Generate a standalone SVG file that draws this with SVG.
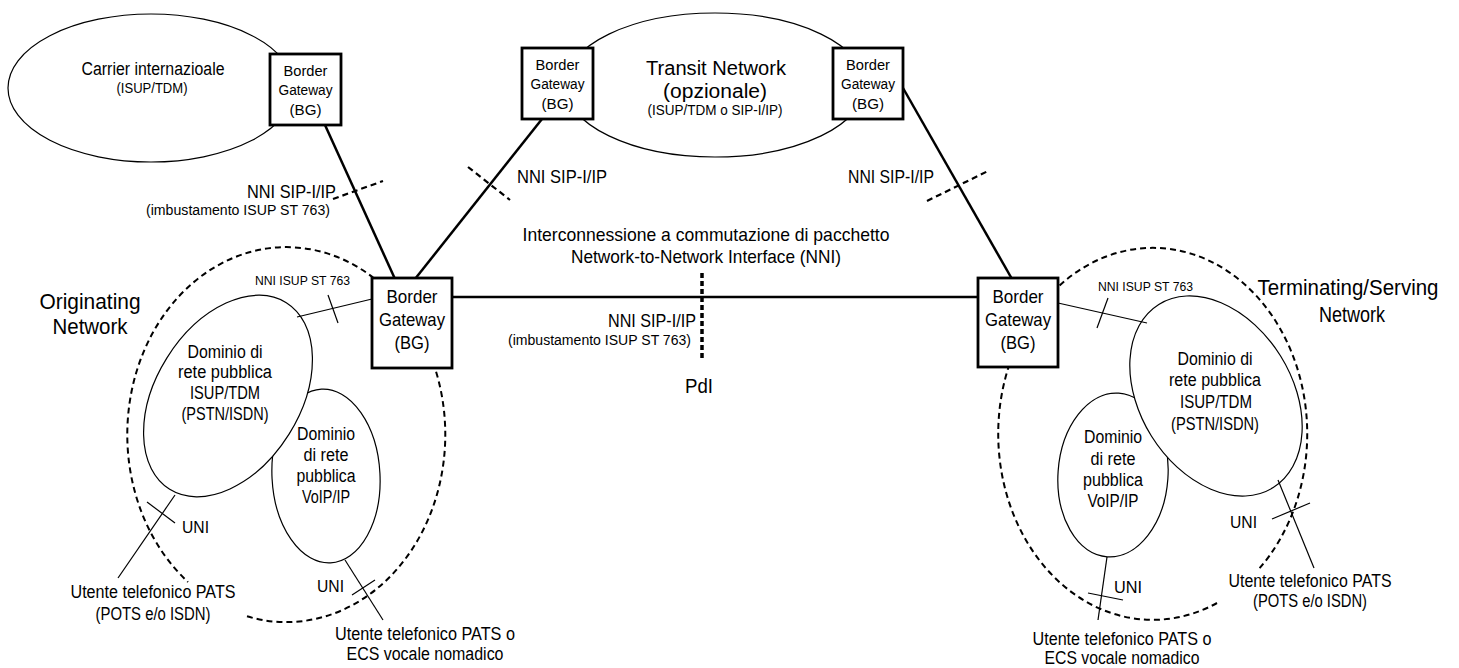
<svg xmlns="http://www.w3.org/2000/svg" width="1459" height="668" viewBox="0 0 1459 668">
  <style>
    text { font-family: "Liberation Sans", Arial, sans-serif; fill: #000; }
    .mid { text-anchor: middle; }
    .end { text-anchor: end; }
    .f13 { font-size: 13.5px; }
    .f14 { font-size: 14px; }
    .f15 { font-size: 15px; }
    .f155 { font-size: 15.5px; }
    .f17 { font-size: 17px; }
    .f18 { font-size: 18px; }
    .f19 { font-size: 19px; }
    .f20 { font-size: 20px; }
    .f21 { font-size: 21px; }
    .f22 { font-size: 22px; }
    .net { fill: #fff; stroke: #000; stroke-width: 1.2; }
    .dom { fill: #fff; stroke: #000; stroke-width: 1.2; }
    .zone { fill: none; stroke: #000; stroke-width: 2; stroke-dasharray: 6 4; }
    .box { fill: #fff; stroke: #000; stroke-width: 2.8; }
    .trunk { fill: none; stroke: #000; stroke-width: 2.5; }
    .link { fill: none; stroke: #000; stroke-width: 1.2; }
    .cut { fill: none; stroke: #000; stroke-width: 2.2; stroke-dasharray: 6 4; }
    .pdi { fill: none; stroke: #000; stroke-width: 3.5; stroke-dasharray: 5 3; }
  </style>

  <rect x="0" y="0" width="1459" height="668" fill="#fff"/>

  <!-- International carrier cloud -->
  <g id="carrier">
    <ellipse class="net" cx="151" cy="88" rx="143" ry="74"/>
    <text class="mid f18" x="153" y="75" textLength="143" lengthAdjust="spacingAndGlyphs">Carrier internazioale</text>
    <text class="mid f15" x="152" y="93" textLength="71" lengthAdjust="spacingAndGlyphs">(ISUP/TDM)</text>
  </g>

  <!-- Optional transit network -->
  <g id="transit">
    <ellipse class="net" cx="715" cy="85" rx="150" ry="72"/>
    <text class="mid f20" x="716" y="75" textLength="140" lengthAdjust="spacingAndGlyphs">Transit Network</text>
    <text class="mid f20" x="715" y="98" textLength="104" lengthAdjust="spacingAndGlyphs">(opzionale)</text>
    <text class="mid f14" x="715" y="115" textLength="135" lengthAdjust="spacingAndGlyphs">(ISUP/TDM o SIP-I/IP)</text>
  </g>

  <!-- Originating network -->
  <g id="originating">
    <text class="mid f22" x="90" y="309" textLength="101" lengthAdjust="spacingAndGlyphs">Originating</text>
    <text class="mid f22" x="90" y="334" textLength="75" lengthAdjust="spacingAndGlyphs">Network</text>
    <g id="orig-voip">
      <ellipse class="dom" cx="326" cy="476" rx="54" ry="87" transform="rotate(-3 326 476)"/>
      <text class="mid f18" x="326" y="440" textLength="58" lengthAdjust="spacingAndGlyphs">Dominio</text>
      <text class="mid f18" x="326" y="461" textLength="45" lengthAdjust="spacingAndGlyphs">di rete</text>
      <text class="mid f18" x="326" y="482" textLength="59" lengthAdjust="spacingAndGlyphs">pubblica</text>
      <text class="mid f18" x="326" y="503" textLength="48" lengthAdjust="spacingAndGlyphs">VoIP/IP</text>
    </g>
    <g id="orig-isup">
      <ellipse class="dom" cx="228" cy="396" rx="110" ry="72" transform="rotate(-58 228 396)"/>
      <text class="mid f18" x="225" y="358" textLength="75" lengthAdjust="spacingAndGlyphs">Dominio di</text>
      <text class="mid f18" x="225" y="378" textLength="94" lengthAdjust="spacingAndGlyphs">rete pubblica</text>
      <text class="mid f18" x="225" y="399" textLength="70" lengthAdjust="spacingAndGlyphs">ISUP/TDM</text>
      <text class="mid f18" x="225" y="420" textLength="87" lengthAdjust="spacingAndGlyphs">(PSTN/ISDN)</text>
    </g>
    <path class="zone" d="M 247 616.3 A 159 187.5 0 1 0 188 582"/>
  </g>

  <!-- Terminating / serving network -->
  <g id="terminating">
    <text class="mid f22" x="1348" y="295" textLength="181" lengthAdjust="spacingAndGlyphs">Terminating/Serving</text>
    <text class="mid f22" x="1352" y="322" textLength="66" lengthAdjust="spacingAndGlyphs">Network</text>
    <g id="term-voip">
      <ellipse class="dom" cx="1113" cy="475" rx="55" ry="82" transform="rotate(4 1113 475)"/>
      <text class="mid f18" x="1113" y="443" textLength="58" lengthAdjust="spacingAndGlyphs">Dominio</text>
      <text class="mid f18" x="1113" y="465" textLength="45" lengthAdjust="spacingAndGlyphs">di rete</text>
      <text class="mid f18" x="1113" y="486" textLength="60" lengthAdjust="spacingAndGlyphs">pubblica</text>
      <text class="mid f18" x="1113" y="507" textLength="51" lengthAdjust="spacingAndGlyphs">VoIP/IP</text>
    </g>
    <g id="term-isup">
      <ellipse class="dom" cx="1216" cy="396" rx="108" ry="76" transform="rotate(58 1216 396)"/>
      <text class="mid f18" x="1215" y="365" textLength="75" lengthAdjust="spacingAndGlyphs">Dominio di</text>
      <text class="mid f18" x="1215" y="386" textLength="92" lengthAdjust="spacingAndGlyphs">rete pubblica</text>
      <text class="mid f18" x="1216" y="408" textLength="72" lengthAdjust="spacingAndGlyphs">ISUP/TDM</text>
      <text class="mid f18" x="1215" y="430" textLength="88" lengthAdjust="spacingAndGlyphs">(PSTN/ISDN)</text>
    </g>
    <path class="zone" d="M 1217 603 A 154.5 186 0 1 1 1258 570"/>
  </g>

  <!-- Links, interface cuts and their labels -->
  <g id="connectors">
    <!-- SIP-I/IP trunks between border gateways -->
    <line class="trunk" x1="325" y1="125" x2="395" y2="279"/>
    <line class="trunk" x1="542" y1="119" x2="415" y2="279"/>
    <line class="trunk" x1="903" y1="88" x2="1012" y2="279"/>
    <line class="trunk" x1="452" y1="297" x2="978" y2="297"/>

    <line class="cut" x1="333" y1="199" x2="383" y2="181"/>
    <line class="cut" x1="468" y1="167" x2="510" y2="200"/>
    <line class="cut" x1="927" y1="201" x2="988" y2="171"/>
    <line class="pdi" x1="702" y1="273" x2="702" y2="358"/>

    <text class="end f18" x="336" y="198" textLength="89" lengthAdjust="spacingAndGlyphs">NNI SIP-I/IP</text>
    <text class="end f155" x="330" y="215" textLength="184" lengthAdjust="spacingAndGlyphs">(imbustamento ISUP ST 763)</text>
    <text class="f18" x="517" y="183" textLength="90" lengthAdjust="spacingAndGlyphs">NNI SIP-I/IP</text>
    <text class="f18" x="848" y="183" textLength="86" lengthAdjust="spacingAndGlyphs">NNI SIP-I/IP</text>
    <text class="mid f19" x="706" y="241" textLength="367" lengthAdjust="spacingAndGlyphs">Interconnessione a commutazione di pacchetto</text>
    <text class="mid f19" x="706" y="263" textLength="270" lengthAdjust="spacingAndGlyphs">Network-to-Network Interface (NNI)</text>
    <text class="end f18" x="696" y="327" textLength="88" lengthAdjust="spacingAndGlyphs">NNI SIP-I/IP</text>
    <text class="end f155" x="691" y="345" textLength="183" lengthAdjust="spacingAndGlyphs">(imbustamento ISUP ST 763)</text>
    <text class="mid f21" x="699" y="393" textLength="28" lengthAdjust="spacingAndGlyphs">PdI</text>

    <!-- ISUP ST 763 legs to the TDM domains -->
    <line class="link" x1="297" y1="317" x2="372" y2="299"/>
    <line class="link" x1="328" y1="295" x2="338" y2="323"/>
    <text class="f13" x="255" y="285" textLength="95" lengthAdjust="spacingAndGlyphs">NNI ISUP ST 763</text>
    <line class="link" x1="1058" y1="303" x2="1147" y2="323"/>
    <line class="link" x1="1108" y1="298" x2="1097" y2="328"/>
    <text class="f13" x="1098" y="291" textLength="95" lengthAdjust="spacingAndGlyphs">NNI ISUP ST 763</text>

    <!-- User access (UNI) -->
    <line class="link" x1="175" y1="495" x2="118" y2="578"/>
    <line class="link" x1="147" y1="502" x2="175" y2="523"/>
    <text class="f17" x="182" y="533" textLength="27" lengthAdjust="spacingAndGlyphs">UNI</text>
    <text class="mid f18" x="153" y="598" textLength="165" lengthAdjust="spacingAndGlyphs">Utente telefonico PATS</text>
    <text class="mid f18" x="153" y="620" textLength="115" lengthAdjust="spacingAndGlyphs">(POTS e/o ISDN)</text>

    <line class="link" x1="345" y1="560" x2="383" y2="620"/>
    <line class="link" x1="352" y1="595" x2="375" y2="580"/>
    <text class="f17" x="317" y="592" textLength="27" lengthAdjust="spacingAndGlyphs">UNI</text>
    <text class="mid f18" x="425" y="640" textLength="180" lengthAdjust="spacingAndGlyphs">Utente telefonico PATS o</text>
    <text class="mid f18" x="425" y="660" textLength="157" lengthAdjust="spacingAndGlyphs">ECS vocale nomadico</text>

    <line class="link" x1="1107" y1="557" x2="1098" y2="620"/>
    <line class="link" x1="1088" y1="593" x2="1123" y2="600"/>
    <text class="f17" x="1114" y="593" textLength="28" lengthAdjust="spacingAndGlyphs">UNI</text>
    <text class="mid f18" x="1122" y="645" textLength="179" lengthAdjust="spacingAndGlyphs">Utente telefonico PATS o</text>
    <text class="mid f18" x="1122" y="664" textLength="155" lengthAdjust="spacingAndGlyphs">ECS vocale nomadico</text>

    <line class="link" x1="1278" y1="480" x2="1314" y2="568"/>
    <line class="link" x1="1272" y1="519" x2="1310" y2="503"/>
    <text class="f17" x="1230" y="528" textLength="27" lengthAdjust="spacingAndGlyphs">UNI</text>
    <text class="mid f18" x="1310" y="587" textLength="163" lengthAdjust="spacingAndGlyphs">Utente telefonico PATS</text>
    <text class="mid f18" x="1310" y="607" textLength="114" lengthAdjust="spacingAndGlyphs">(POTS e/o ISDN)</text>
  </g>

  <!-- Border gateways -->
  <g id="bg-carrier">
    <rect class="box" x="270" y="54" width="71" height="71"/>
    <text class="mid f155" x="305.5" y="76" textLength="44" lengthAdjust="spacingAndGlyphs">Border</text>
    <text class="mid f155" x="305.5" y="95" textLength="54" lengthAdjust="spacingAndGlyphs">Gateway</text>
    <text class="mid f155" x="305.5" y="115" textLength="32" lengthAdjust="spacingAndGlyphs">(BG)</text>
  </g>
  <g id="bg-transit-in">
    <rect class="box" x="522" y="48" width="71" height="71"/>
    <text class="mid f155" x="557.5" y="70" textLength="44" lengthAdjust="spacingAndGlyphs">Border</text>
    <text class="mid f155" x="557.5" y="89" textLength="54" lengthAdjust="spacingAndGlyphs">Gateway</text>
    <text class="mid f155" x="557.5" y="109" textLength="32" lengthAdjust="spacingAndGlyphs">(BG)</text>
  </g>
  <g id="bg-transit-out">
    <rect class="box" x="833" y="48" width="70" height="71"/>
    <text class="mid f155" x="868" y="70" textLength="44" lengthAdjust="spacingAndGlyphs">Border</text>
    <text class="mid f155" x="868" y="89" textLength="54" lengthAdjust="spacingAndGlyphs">Gateway</text>
    <text class="mid f155" x="868" y="109" textLength="32" lengthAdjust="spacingAndGlyphs">(BG)</text>
  </g>
  <g id="bg-originating">
    <rect class="box" x="372" y="278" width="80" height="90"/>
    <text class="mid f19" x="412" y="303" textLength="51" lengthAdjust="spacingAndGlyphs">Border</text>
    <text class="mid f19" x="412" y="326" textLength="66" lengthAdjust="spacingAndGlyphs">Gateway</text>
    <text class="mid f19" x="412" y="349" textLength="35" lengthAdjust="spacingAndGlyphs">(BG)</text>
  </g>
  <g id="bg-terminating">
    <rect class="box" x="978" y="278" width="80" height="89"/>
    <text class="mid f19" x="1018" y="303" textLength="51" lengthAdjust="spacingAndGlyphs">Border</text>
    <text class="mid f19" x="1018" y="326" textLength="66" lengthAdjust="spacingAndGlyphs">Gateway</text>
    <text class="mid f19" x="1018" y="349" textLength="35" lengthAdjust="spacingAndGlyphs">(BG)</text>
  </g>
</svg>
